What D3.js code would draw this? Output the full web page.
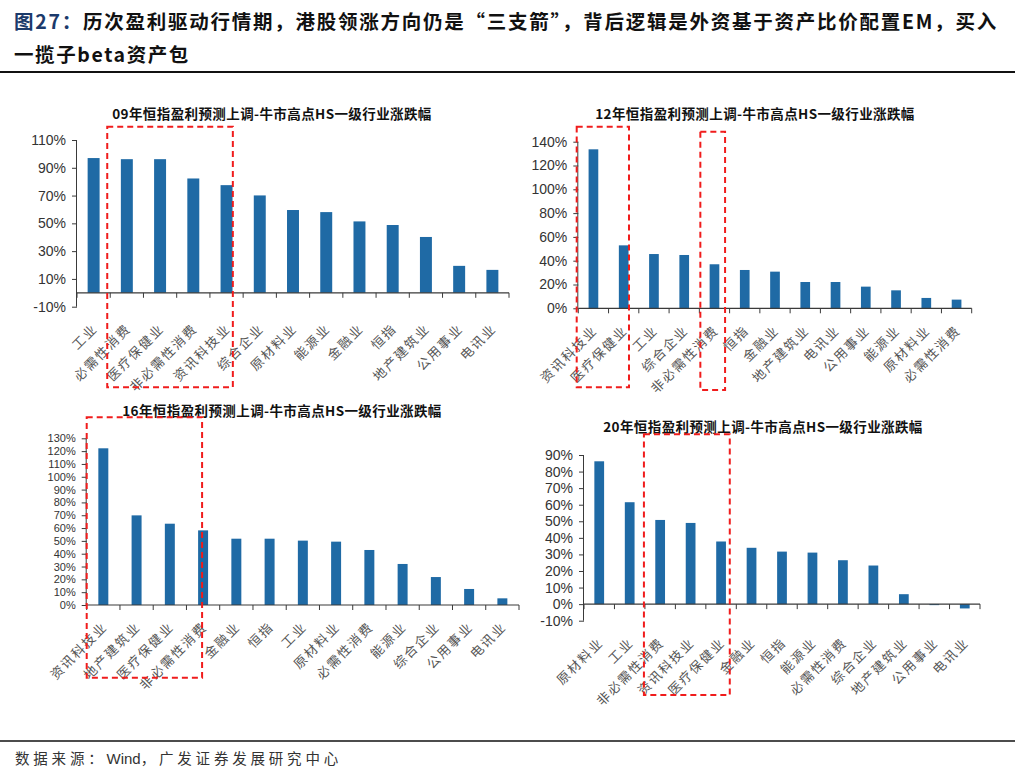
<!DOCTYPE html>
<html><head><meta charset="utf-8">
<script src="https://cdn.jsdelivr.net/npm/d3@7"></script>
<style>body{margin:0;background:#fff}svg{display:block}</style>
</head><body><svg id="c" width="1019" height="773"></svg>
<script>
// ---------- data ----------
const title09 = "09年恒指盈利预测上调-牛市高点HS一级行业涨跌幅";
const cats09 = ["工业","必需性消费","医疗保健业","非必需性消费","资讯科技业","综合企业","原材料业","能源业","金融业","恒指","地产建筑业","公用事业","电讯业"];
const vals09 = [97.0, 96.2, 96.2, 82.3, 77.5, 70.1, 59.6, 58.1, 51.4, 48.8, 40.2, 19.4, 16.5];
const ticks09 = [-10, 10, 30, 50, 70, 90, 110];

const title12 = "12年恒指盈利预测上调-牛市高点HS一级行业涨跌幅";
const cats12 = ["资讯科技业","医疗保健业","工业","综合企业","非必需性消费","恒指","金融业","地产建筑业","电讯业","公用事业","能源业","原材料业","必需性消费"];
const vals12 = [133.6, 52.9, 45.6, 44.8, 37.0, 32.2, 30.8, 22.1, 22.1, 18.2, 15.1, 8.7, 7.3];
const ticks12 = [0, 20, 40, 60, 80, 100, 120, 140];

const title16 = "16年恒指盈利预测上调-牛市高点HS一级行业涨跌幅";
const cats16 = ["资讯科技业","地产建筑业","医疗保健业","非必需性消费","金融业","恒指","工业","原材料业","必需性消费","能源业","综合企业","公用事业","电讯业"];
const vals16 = [122.2, 69.9, 63.4, 58.2, 51.7, 51.7, 50.2, 49.4, 42.9, 32.0, 21.8, 12.5, 5.2];
const ticks16 = [0, 10, 20, 30, 40, 50, 60, 70, 80, 90, 100, 110, 120, 130];

const title20 = "20年恒指盈利预测上调-牛市高点HS一级行业涨跌幅";
const cats20 = ["原材料业","工业","非必需性消费","资讯科技业","医疗保健业","金融业","恒指","能源业","必需性消费","综合企业","地产建筑业","公用事业","电讯业"];
const vals20 = [86.2, 61.5, 50.8, 49.0, 37.8, 34.0, 31.7, 31.1, 26.5, 23.3, 6.0, -0.6, -2.6];
const ticks20 = [-10, 0, 10, 20, 30, 40, 50, 60, 70, 80, 90];

const headLabel = "图27：";
const headLine1 = "历次盈利驱动行情期，港股领涨方向仍是“三支箭”，背后逻辑是外资基于资产比价配置EM，买入";
const headLine2 = "一揽子beta资产包";
const sourceParts = ["数据来源：", "Wind", "，广发证券发展研究中心"];

// ---------- layout / style ----------
const charts = [
  {title:title09, cats:cats09, vals:vals09, ticks:ticks09, domain:[-10,110], xr:[77,509], yr:[306.7,140], barFrac:0.36, tx:272, ty:113, tickFont:14,
   boxes:[{a:1,offL:-3,b:4,offR:6.3,top:126.7,bot:387.3}]},
  {title:title12, cats:cats12, vals:vals12, ticks:ticks12, domain:[0,140], xr:[578.3,971.7], yr:[308.3,141.7], barFrac:0.32, tx:755, ty:113, tickFont:14,
   boxes:[{a:0,offL:-1.6,b:1,offR:5.3,top:126.7,bot:387.3},{a:4,offL:1,b:4,offR:10.6,top:131.7,bot:390}]},
  {title:title16, cats:cats16, vals:vals16, ticks:ticks16, domain:[0,130], xr:[86.7,519], yr:[605,438.3], barFrac:0.30, tx:282, ty:410, tickFont:11,
   boxes:[{a:0,offL:0,b:3,offR:-1,top:417.3,bot:677.7}]},
  {title:title20, cats:cats20, vals:vals20, ticks:ticks20, domain:[-10,90], xr:[584,980], yr:[620.7,455], barFrac:0.32, tx:763, ty:426, tickFont:14,
   boxes:[{a:2,offL:-1,b:4,offR:8.7,top:434.3,bot:695}]}
];

const BAR = "#1f6aa5";
const AX = "#3a3a3a";
const CJK = "'Noto Sans CJK SC','Noto Sans',sans-serif";
const LAT = "'Liberation Sans',Arial,sans-serif";

const svg = d3.select("#c");

// header
const h1 = svg.append("text").attr("x", 14).attr("y", 29)
  .style("font-family", CJK).style("font-size", "19.5px").style("font-weight", 700).style("letter-spacing", "1.75px");
h1.append("tspan").attr("fill", "#1b3a6b").text(headLabel);
h1.append("tspan").attr("fill", "#111").text(headLine1);
svg.append("text").attr("x", 14).attr("y", 62).attr("fill", "#111")
  .style("font-family", CJK).style("font-size", "19.5px").style("font-weight", 700).style("letter-spacing", "1.6px")
  .text(headLine2);
svg.append("line").attr("x1", 0).attr("x2", 1015).attr("y1", 72).attr("y2", 72).attr("stroke", "#111").attr("stroke-width", 2);

// footer
svg.append("line").attr("x1", 0).attr("x2", 1015).attr("y1", 741).attr("y2", 741).attr("stroke", "#111").attr("stroke-width", 1.5);
const ft = svg.append("text").attr("x", 15).attr("y", 764).attr("fill", "#333")
  .style("font-family", CJK).style("font-size", "14.5px");
ft.append("tspan").style("letter-spacing", "3.8px").text(sourceParts[0]);
ft.append("tspan").style("font-family", LAT).style("font-size", "15px").text(sourceParts[1]);
ft.append("tspan").style("letter-spacing", "3.8px").text(sourceParts[2]);

charts.forEach(c => {
  const g = svg.append("g");
  const x = d3.scaleBand().domain(c.cats).range(c.xr).padding(0);
  const y = d3.scaleLinear().domain(c.domain).range(c.yr);
  const bw = x.bandwidth();
  const barW = bw * c.barFrac;
  const y0 = y(0);
  const yb = y(c.domain[0]);

  // title
  g.append("text").attr("x", c.tx).attr("y", c.ty).attr("text-anchor", "middle").attr("dominant-baseline", "central")
    .attr("fill", "#111").style("font-family", CJK).style("font-size", "13.5px").style("font-weight", 700)
    .style("letter-spacing", "0.4px").text(c.title);

  // bars
  g.selectAll("rect.bar").data(c.cats).enter().append("rect").attr("class", "bar")
    .attr("x", (d) => x(d) + bw/2 - barW/2)
    .attr("width", barW)
    .attr("y", (d, i) => Math.min(y(c.vals[i]), y0))
    .attr("height", (d, i) => Math.abs(y(c.vals[i]) - y0))
    .attr("fill", BAR);

  // y axis
  const ya = d3.axisLeft(y).tickValues(c.ticks).tickSize(5).tickPadding(6).tickFormat(d => d + "%");
  const yg = g.append("g").attr("transform", `translate(${c.xr[0]},0)`).call(ya);
  yg.select(".domain").attr("stroke", AX).attr("d", `M-0.5,${y(c.domain[0])}V${y(c.domain[1])}`);
  yg.selectAll(".tick line").attr("stroke", AX);
  yg.selectAll(".tick text").attr("fill", "#333").style("font-family", LAT).style("font-size", c.tickFont + "px");

  // x axis at zero with boundary ticks
  g.append("line").attr("x1", c.xr[0]).attr("x2", c.xr[1]).attr("y1", y0).attr("y2", y0).attr("stroke", AX).attr("stroke-width", 1.2);
  const bounds = c.cats.map(d => x(d)).concat([c.xr[1]]);
  g.selectAll("line.xt").data(bounds).enter().append("line").attr("class", "xt")
    .attr("x1", d => d).attr("x2", d => d).attr("y1", y0).attr("y2", y0 + 5).attr("stroke", AX);

  // x labels
  g.selectAll("text.xl").data(c.cats).enter().append("text").attr("class", "xl")
    .attr("transform", d => `translate(${x(d) + bw/2 + 1},${yb + 19}) rotate(-45)`)
    .attr("text-anchor", "end").attr("dominant-baseline", "central")
    .attr("fill", "#555").style("font-family", CJK).style("font-size", "13px").style("letter-spacing", "1.8px")
    .text(d => d);

  // red dashed highlight boxes
  c.boxes.forEach(b => {
    const l = x(c.cats[b.a]) + b.offL;
    const r = x(c.cats[b.b]) + bw/2 + b.offR;
    g.append("rect").attr("x", l).attr("y", b.top).attr("width", r - l).attr("height", b.bot - b.top)
      .attr("fill", "none").attr("stroke", "#f01c1c").attr("stroke-width", 2).attr("stroke-dasharray", "6,4");
  });
});
</script>
</body></html>
